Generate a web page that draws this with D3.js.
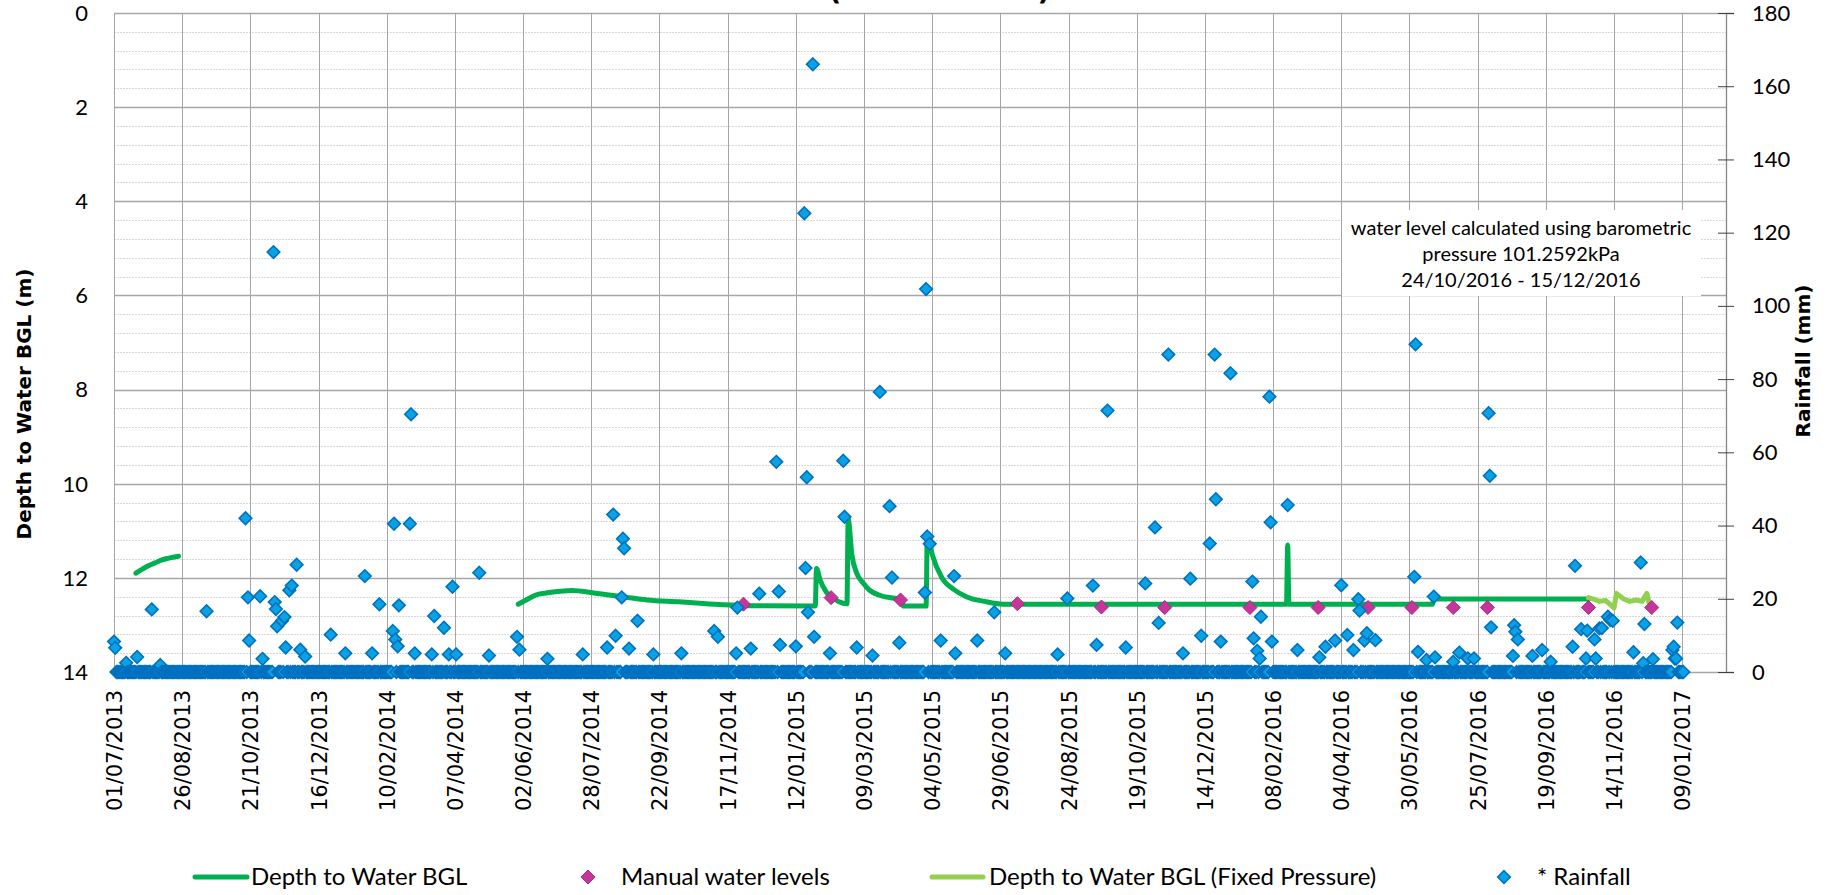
<!DOCTYPE html>
<html>
<head>
<meta charset="utf-8">
<script src="https://cdn.jsdelivr.net/npm/d3@7"></script>
<style>
	body { margin: 0; background: #fff; }
	svg text { fill: #000; }
</style>
</head>
<body>
<div id="vis"></div>
<script>
const width = 1829;
const height = 895;
const margin = {top: 13, right: 103, bottom: 223, left: 114};

// axis ticks
const xTickLabels = ["01/07/2013", "26/08/2013", "21/10/2013", "16/12/2013", "10/02/2014", "07/04/2014",
	"02/06/2014", "28/07/2014", "22/09/2014", "17/11/2014", "12/01/2015", "09/03/2015", "04/05/2015",
	"29/06/2015", "24/08/2015", "19/10/2015", "14/12/2015", "08/02/2016", "04/04/2016", "30/05/2016",
	"25/07/2016", "19/09/2016", "14/11/2016", "09/01/2017"];
const xDomain = ["01/07/2013", "14/02/2017"];
const depthTicks = [0, 2, 4, 6, 8, 10, 12, 14];
const rainTicks = [0, 20, 40, 60, 80, 100, 120, 140, 160, 180];

// logger depth to water (m), null = no record
const loggerDates = ["19/07/2013", "24/07/2013", "28/07/2013", "04/08/2013", "08/08/2013", "15/08/2013", "23/08/2013", "24/08/2013",
	"29/05/2014", "06/06/2014", "12/06/2014", "21/06/2014", "01/07/2014", "12/07/2014", "30/07/2014", "25/08/2014",
	"12/09/2014", "08/10/2014", "25/10/2014", "13/11/2014", "03/12/2014", "28/01/2015", "29/01/2015", "01/02/2015",
	"06/02/2015", "11/02/2015", "16/02/2015", "23/02/2015", "24/02/2015", "27/02/2015", "03/03/2015", "08/03/2015",
	"13/03/2015", "23/03/2015", "02/04/2015", "09/04/2015", "10/04/2015", "29/04/2015", "30/04/2015", "04/05/2015",
	"12/05/2015", "22/05/2015", "01/06/2015", "16/06/2015", "01/07/2015", "19/02/2016", "20/02/2016", "21/02/2016",
	"18/06/2016", "19/06/2016", "24/10/2016"];
const loggerDepth = [11.90, 11.82, 11.76, 11.68, 11.63, 11.58, 11.54, null,
	12.56, 12.45, 12.37, 12.32, 12.29, 12.27, 12.32, 12.41,
	12.47, 12.51, 12.54, 12.57, 12.59, 12.60, 11.80, 12.05,
	12.30, 12.42, 12.50, 12.55, 10.75, 11.50, 11.90, 12.10,
	12.25, 12.38, 12.43, 12.45, 12.60, 12.60, 11.05, 11.50,
	12.00, 12.25, 12.40, 12.50, 12.56, 12.56, 11.30, 12.56,
	12.56, 12.45, 12.45];

// logger depth using fixed barometric pressure
const fixedDates = ["24/10/2016", "28/10/2016", "02/11/2016", "07/11/2016", "14/11/2016", "16/11/2016", "22/11/2016",
	"27/11/2016", "02/12/2016", "07/12/2016", "11/12/2016", "13/12/2016", "15/12/2016"];
const fixedDepth = [12.42, 12.45, 12.50, 12.48, 12.64, 12.33, 12.45, 12.50, 12.47, 12.50, 12.33, 12.55, 12.60];

// manual dips
const manualDates = ["30/11/2014", "10/02/2015", "08/04/2015", "13/07/2015", "20/09/2015", "11/11/2015", "20/01/2016",
	"16/03/2016", "26/04/2016", "01/06/2016", "05/07/2016", "02/08/2016", "24/10/2016", "15/12/2016"];
const manualDepth = [12.56, 12.42, 12.47, 12.55, 12.62, 12.63, 12.63, 12.63, 12.63, 12.63, 12.63, 12.63, 12.63, 12.63];

// daily rainfall (mm); every other day of the record is 0
const rainRecord = ["01/07/2013", "10/01/2017"];
const rainDates = ["01/07/2013", "02/07/2013", "11/07/2013", "20/07/2013", "01/08/2013", "08/08/2013", "15/09/2013",
	"17/10/2013", "19/10/2013", "29/10/2013", "09/11/2013", "10/11/2013", "11/11/2013", "12/11/2013", "16/11/2013",
	"18/11/2013", "22/11/2013", "24/11/2013", "28/11/2013", "26/12/2013", "23/01/2014", "04/02/2014", "16/02/2014",
	"20/02/2014", "01/03/2014", "02/03/2014", "21/03/2014", "05/04/2014", "27/04/2014", "28/05/2014", "15/08/2014",
	"22/08/2014", "23/08/2014", "24/08/2014", "04/09/2014", "25/11/2014", "13/12/2014", "27/12/2014", "29/12/2014",
	"19/01/2015", "20/01/2015", "21/01/2015", "22/01/2015", "26/01/2015", "20/02/2015", "21/02/2015", "22/03/2015",
	"30/03/2015", "01/04/2015", "28/04/2015", "29/04/2015", "30/04/2015", "02/05/2015", "22/05/2015", "24/06/2015",
	"23/08/2015", "13/09/2015", "25/09/2015", "26/10/2015", "03/11/2015", "14/11/2015", "02/12/2015", "18/12/2015",
	"22/12/2015", "23/12/2015", "04/01/2016", "22/01/2016", "23/01/2016", "26/01/2016", "28/01/2016", "29/01/2016",
	"05/02/2016", "06/02/2016", "07/02/2016", "20/02/2016", "28/02/2016", "17/03/2016", "22/03/2016", "30/03/2016",
	"04/04/2016", "09/04/2016", "14/04/2016", "18/04/2016", "19/04/2016", "23/04/2016", "25/04/2016", "02/05/2016",
	"03/06/2016", "04/06/2016", "06/06/2016", "13/06/2016", "19/06/2016", "20/06/2016", "05/07/2016", "10/07/2016",
	"17/07/2016", "22/07/2016", "03/08/2016", "04/08/2016", "05/08/2016", "23/08/2016", "24/08/2016", "25/08/2016",
	"27/08/2016", "08/09/2016", "16/09/2016", "23/09/2016", "11/10/2016", "13/10/2016", "18/10/2016", "22/10/2016",
	"23/10/2016", "29/10/2016", "30/10/2016", "02/11/2016", "04/11/2016", "09/11/2016", "11/11/2016", "13/11/2016",
	"30/11/2016", "06/12/2016", "08/12/2016", "09/12/2016", "16/12/2016", "01/01/2017", "02/01/2017", "03/01/2017",
	"04/01/2017", "05/01/2017",
	"20/10/2013", "31/10/2013", "19/11/2013", "01/12/2013", "05/12/2013", "07/01/2014", "29/01/2014", "15/02/2014",
	"17/02/2014", "19/02/2014", "05/03/2014", "19/03/2014", "29/03/2014", "02/04/2014", "08/04/2014", "05/05/2014",
	"30/05/2014", "22/06/2014", "21/07/2014", "10/08/2014", "17/08/2014", "28/08/2014", "17/09/2014", "10/10/2014",
	"06/11/2014", "09/11/2014", "24/11/2014", "06/12/2014", "30/12/2014", "12/01/2015", "27/01/2015", "09/02/2015",
	"03/03/2015", "16/03/2015", "07/04/2015", "11/05/2015", "23/05/2015", "10/06/2015", "03/07/2015", "15/08/2015",
	"16/09/2015", "10/10/2015", "06/11/2015", "26/11/2015", "11/12/2015", "27/12/2015"];
const rainMm = [8.3, 6.6, 2.5, 4.1, 17.1, 1.9, 16.6,
	42, 20.4, 20.7, 114.7, 19.1, 17.2, 12.5, 14,
	15, 22.3, 23.6, 29.3, 10.2, 26.2, 18.5, 40.5,
	18.2, 40.5, 70.4, 15.3, 23.3, 27.1, 9.6, 43,
	20.4, 36.4, 33.8, 14, 17.6, 21.4, 57.4, 22,
	125.3, 28.4, 53.2, 16.3, 166, 57.7, 42.4, 76.5,
	45.3, 25.8, 21.7, 104.6, 37, 35, 26.2, 16.3,
	20.1, 23.6, 71.4, 24.2, 39.5, 86.7, 25.5, 35.1,
	86.7, 47.2, 81.6, 24.7, 9.2, 5.8, 3.7, 15.1,
	75.2, 40.9, 8.3, 45.6, 6, 4, 6.9, 8.6,
	23.7, 10.1, 6, 19.9, 16.8, 8.6, 10.6, 8.7,
	26, 89.5, 5.5, 3.3, 20.6, 4, 2.8, 5.3,
	3.7, 3.7, 70.7, 53.6, 12.2, 4.4, 12.8, 11,
	8.9, 4.4, 6, 2.8, 6.9, 29, 11.7, 3.7,
	11.3, 8.9, 3.7, 11.9, 12, 15.1, 14.2, 14,
	5.4, 29.9, 2.4, 13.1, 3.5, 6, 6.9, 3.7,
	3.7, 13.5,
	8.6, 3.6, 6.7, 6.1, 4.2, 5.1, 5.1, 11.2,
	8.9, 7, 5.1, 4.8, 12.1, 4.8, 4.8, 4.5,
	6.1, 3.6, 4.8, 6.7, 9.9, 6.4, 4.8, 5.1,
	11.2, 9.6, 5.1, 6.4, 7.4, 7, 9.6, 5.1,
	6.7, 4.5, 8, 8.6, 5.1, 8.6, 5.1, 4.8,
	7.4, 6.7, 13.4, 5.1, 9.9, 8.3];

const annotationLines = ["water level calculated using barometric", "pressure 101.2592kPa", "24/10/2016 - 15/12/2016"];
const legendItems = ["Depth to Water BGL", "Manual water levels", "Depth to Water BGL (Fixed Pressure)", "* Rainfall"];

const parse = d3.timeParse("%d/%m/%Y");
const green = "#00b050", lightGreen = "#92d050";
const manualFill = "#c6359b", manualStroke = "#a52a82";
const rainFill = "#0ba2e3", rainStroke = "#0070c0";
const diamond = r => `M0,${-r}L${r},0L0,${r}L${-r},0Z`;

const svg = d3.select("#vis")
	.append("svg")
		.attr("width", width)
		.attr("height", height);

const x = d3.scaleTime()
	.domain(xDomain.map(parse))
	.range([margin.left, width - margin.right]);

const y = d3.scaleLinear()
	.domain([0, 14])
	.range([margin.top, height - margin.bottom]);

const yRain = d3.scaleLinear()
	.domain([0, 180])
	.range([height - margin.bottom, margin.top]);

// gridlines
const grid = svg.append("g");
grid.selectAll("line.minor")
	.data(d3.range(0, 14.01, 0.4).filter(v => Math.abs(v / 2 - Math.round(v / 2)) > 0.01))
	.enter()
	.append("line")
		.attr("x1", margin.left)
		.attr("x2", width - margin.right)
		.attr("y1", d => Math.round(y(d)) + 0.5)
		.attr("y2", d => Math.round(y(d)) + 0.5)
		.attr("stroke", "#d9d9d9")
		.attr("stroke-dasharray", "2,1");

grid.selectAll("line.vert")
	.data(xTickLabels)
	.enter()
	.append("line")
		.attr("x1", d => Math.round(x(parse(d))) + 0.5)
		.attr("x2", d => Math.round(x(parse(d))) + 0.5)
		.attr("y1", margin.top)
		.attr("y2", height - margin.bottom)
		.attr("stroke", "#a6a6a6");

grid.selectAll("line.major")
	.data(depthTicks)
	.enter()
	.append("line")
		.attr("x1", margin.left)
		.attr("x2", width - margin.right)
		.attr("y1", d => Math.round(y(d)) + 0.5)
		.attr("y2", d => Math.round(y(d)) + 0.5)
		.attr("stroke", "#a6a6a6")
		.attr("stroke-width", 1.3);

// left axis labels
svg.append("g")
	.selectAll("text")
	.data(depthTicks)
	.enter()
	.append("text")
		.attr("x", 88)
		.attr("y", d => y(d))
		.attr("dy", "0.36em")
		.attr("text-anchor", "end")
		.style("font", "22px Lato")
		.text(d => d);

// right axis
const yAxisR = svg.append("g")
	.attr("transform", `translate(${width - margin.right}, 0)`)
	.call(d3.axisRight(yRain).tickValues(rainTicks).tickSize(8).tickPadding(18));
yAxisR.select(".domain").attr("stroke", "#868686").attr("stroke-width", 1.3);
yAxisR.selectAll(".tick line").attr("x1", -8).attr("stroke", "#404040");
yAxisR.selectAll(".tick text").style("font", "22px Lato").attr("fill", "#000");

// bottom axis labels
svg.append("g")
	.selectAll("text")
	.data(xTickLabels)
	.enter()
	.append("text")
		.attr("transform", d => `translate(${x(parse(d)) + 8}, 690) rotate(-90)`)
		.attr("text-anchor", "end")
		.style("font", "21px 'DejaVu Sans'")
		.text(d => d);

// axis titles
svg.append("text")
	.attr("transform", `translate(31, 404) rotate(-90)`)
	.attr("text-anchor", "middle")
	.style("font", "bold 20px 'DejaVu Sans'")
	.text("Depth to Water BGL (m)");

svg.append("text")
	.attr("transform", `translate(1810, 361) rotate(-90)`)
	.attr("text-anchor", "middle")
	.style("font", "bold 20px 'DejaVu Sans'")
	.text("Rainfall (mm)");

// chart title (cut off above the picture)
svg.append("g")
	.selectAll("text")
	.data([["(", 835], [")", 1044]])
	.enter()
	.append("text")
		.attr("x", d => d[1])
		.attr("y", 0)
		.attr("text-anchor", "middle")
		.style("font", "bold 28px 'DejaVu Sans'")
		.text(d => d[0]);

// logger line
const loggerData = loggerDates.map((d, i) => ({date: parse(d), v: loggerDepth[i]}));
const line = d3.line()
	.defined(d => d.v !== null)
	.x(d => x(d.date))
	.y(d => y(d.v))
	.curve(d3.curveMonotoneX);

svg.append("path")
	.datum(loggerData)
	.attr("d", line)
	.attr("fill", "none")
	.attr("stroke", green)
	.attr("stroke-width", 5)
	.attr("stroke-linejoin", "round")
	.attr("stroke-linecap", "round");

const fixedData = fixedDates.map((d, i) => ({date: parse(d), v: fixedDepth[i]}));
svg.append("path")
	.datum(fixedData)
	.attr("d", line.curve(d3.curveLinear))
	.attr("fill", "none")
	.attr("stroke", lightGreen)
	.attr("stroke-width", 5)
	.attr("stroke-linejoin", "round")
	.attr("stroke-linecap", "round");

// manual water levels
svg.append("g")
	.selectAll("path")
	.data(manualDates.map((d, i) => ({date: parse(d), v: manualDepth[i]})))
	.enter()
	.append("path")
		.attr("transform", d => `translate(${x(d.date)}, ${y(d.v)})`)
		.attr("d", diamond(7))
		.attr("fill", manualFill)
		.attr("stroke", manualStroke)
		.attr("stroke-width", 1);

// rainfall, one diamond per day of record
const rainLookup = new Map(rainDates.map((d, i) => [+parse(d), rainMm[i]]));
const rainDays = d3.timeDay.range(parse(rainRecord[0]), d3.timeDay.offset(parse(rainRecord[1]), 1))
	.map(d => ({date: d, v: rainLookup.has(+d) ? rainLookup.get(+d) : 0}));

svg.append("g")
	.selectAll("path")
	.data(rainDays)
	.enter()
	.append("path")
		.attr("transform", d => `translate(${x(d.date)}, ${yRain(d.v)})`)
		.attr("d", diamond(6.3))
		.attr("fill", rainFill)
		.attr("stroke", rainStroke)
		.attr("stroke-width", 1.6);

// annotation box
const note = svg.append("g");
note.append("rect")
	.attr("x", 1342)
	.attr("y", 210)
	.attr("width", 359)
	.attr("height", 86)
	.attr("fill", "#fff");
note.selectAll("text")
	.data(annotationLines)
	.enter()
	.append("text")
		.attr("x", 1521)
		.attr("y", (d, i) => 235 + i * 26)
		.attr("text-anchor", "middle")
		.style("font", "20px Lato")
		.text(d => d);

// legend
const legend = svg.append("g").attr("transform", "translate(0, 877)");
legend.append("line").attr("x1", 195).attr("x2", 247).attr("stroke", green).attr("stroke-width", 5).attr("stroke-linecap", "round");
legend.append("path").attr("transform", "translate(588, 0)").attr("d", diamond(7)).attr("fill", manualFill).attr("stroke", manualStroke);
legend.append("line").attr("x1", 932).attr("x2", 983).attr("stroke", lightGreen).attr("stroke-width", 5).attr("stroke-linecap", "round");
legend.append("path").attr("transform", "translate(1504, 0)").attr("d", diamond(6.3)).attr("fill", rainFill).attr("stroke", rainStroke).attr("stroke-width", 1.6);
legend.selectAll("text")
	.data(legendItems.map((t, i) => [t, [251, 621, 989, 1537][i]]))
	.enter()
	.append("text")
		.attr("x", d => d[1])
		.attr("y", 0)
		.attr("dy", "0.35em")
		.style("font", "24px Lato")
		.text(d => d[0]);
</script>
</body>
</html>
